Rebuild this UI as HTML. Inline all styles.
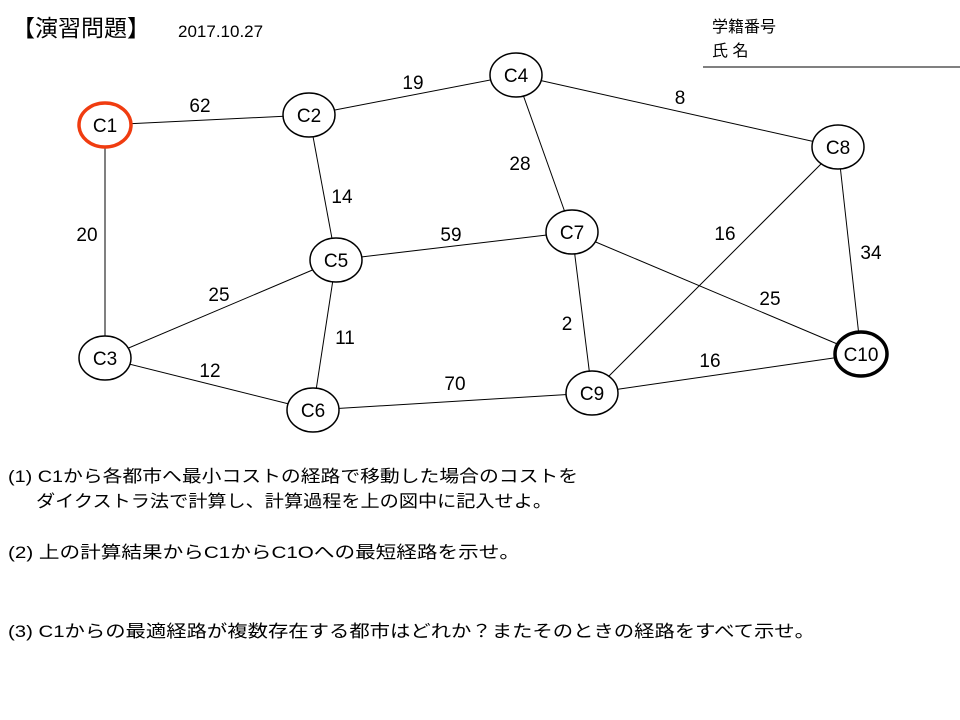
<!DOCTYPE html>
<html><head><meta charset="utf-8"><style>
html,body{margin:0;padding:0;background:#fff;}
svg{display:block;}
text{font-family:"Liberation Sans","Noto Sans CJK JP",sans-serif;fill:#000;}
</style></head><body>
<svg width="960" height="720" viewBox="0 0 960 720" xmlns="http://www.w3.org/2000/svg">
<text x="12" y="36" font-size="23" textLength="138" lengthAdjust="spacingAndGlyphs">【演習問題】</text>
<text x="178" y="37" font-size="17">2017.10.27</text>
<text x="712" y="32" font-size="16">学籍番号</text>
<text x="712" y="56" font-size="16">氏 名</text>
<line x1="703" y1="67" x2="960" y2="67" stroke="#000" stroke-width="1"/>
<g stroke="#000" stroke-width="1">
<line x1="105" y1="125" x2="309" y2="115"/>
<line x1="309" y1="115" x2="516" y2="75"/>
<line x1="516" y1="75" x2="838" y2="147"/>
<line x1="516" y1="75" x2="572" y2="232"/>
<line x1="309" y1="115" x2="336" y2="260"/>
<line x1="105" y1="125" x2="105" y2="358"/>
<line x1="336" y1="260" x2="572" y2="232"/>
<line x1="105" y1="358" x2="336" y2="260"/>
<line x1="105" y1="358" x2="313" y2="410"/>
<line x1="336" y1="260" x2="313" y2="410"/>
<line x1="572" y1="232" x2="592" y2="393"/>
<line x1="572" y1="232" x2="861" y2="354"/>
<line x1="838" y1="147" x2="592" y2="393"/>
<line x1="838" y1="147" x2="861" y2="354"/>
<line x1="313" y1="410" x2="592" y2="393"/>
<line x1="592" y1="393" x2="861" y2="354"/>
</g>
<g fill="#fff" stroke="#000" stroke-width="1.5">
<ellipse cx="105" cy="125" rx="26" ry="22" stroke="#f03c10" stroke-width="3.5"/>
<ellipse cx="309" cy="115" rx="26" ry="22"/>
<ellipse cx="516" cy="75" rx="26" ry="22"/>
<ellipse cx="838" cy="147" rx="26" ry="22"/>
<ellipse cx="572" cy="232" rx="26" ry="22"/>
<ellipse cx="336" cy="260" rx="26" ry="22"/>
<ellipse cx="105" cy="358" rx="26" ry="22"/>
<ellipse cx="313" cy="410" rx="26" ry="22"/>
<ellipse cx="592" cy="393" rx="26" ry="22"/>
<ellipse cx="861" cy="354" rx="26" ry="22" stroke-width="3.5"/>
</g>
<g font-size="19" text-anchor="middle">
<text x="105" y="132">C1</text>
<text x="309" y="122">C2</text>
<text x="516" y="82">C4</text>
<text x="838" y="154">C8</text>
<text x="572" y="239">C7</text>
<text x="336" y="267">C5</text>
<text x="105" y="365">C3</text>
<text x="313" y="417">C6</text>
<text x="592" y="400">C9</text>
<text x="861" y="361">C10</text>
</g>
<g font-size="19" text-anchor="middle">
<text x="200" y="112">62</text>
<text x="413" y="89">19</text>
<text x="680" y="104">8</text>
<text x="520" y="170">28</text>
<text x="342" y="203">14</text>
<text x="87" y="241">20</text>
<text x="451" y="241">59</text>
<text x="725" y="240">16</text>
<text x="871" y="259">34</text>
<text x="219" y="301">25</text>
<text x="770" y="305">25</text>
<text x="345" y="344">11</text>
<text x="567" y="330">2</text>
<text x="210" y="377">12</text>
<text x="455" y="390">70</text>
<text x="710" y="367">16</text>
</g>
<g font-size="17">
<text x="8" y="482" textLength="570" lengthAdjust="spacingAndGlyphs">(1) C1から各都市へ最小コストの経路で移動した場合のコストを</text>
<text x="36" y="507" textLength="516" lengthAdjust="spacingAndGlyphs">ダイクストラ法で計算し、計算過程を上の図中に記入せよ。</text>
<text x="8" y="558" textLength="512" lengthAdjust="spacingAndGlyphs">(2) 上の計算結果からC1からC1Oへの最短経路を示せ。</text>
<text x="8" y="637" textLength="807" lengthAdjust="spacingAndGlyphs">(3) C1からの最適経路が複数存在する都市はどれか？またそのときの経路をすべて示せ。</text>
</g>
</svg>
</body></html>
